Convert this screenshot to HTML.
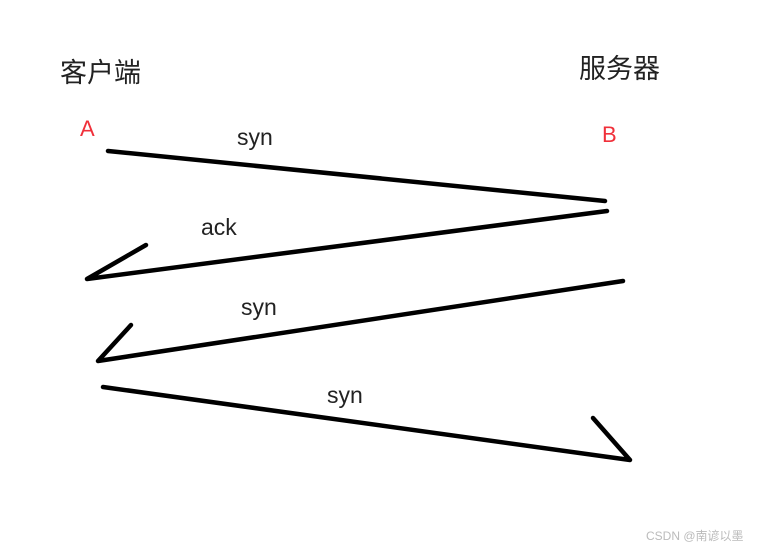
<!DOCTYPE html>
<html><head><meta charset="utf-8"><style>
html,body{margin:0;padding:0;background:#fff;}
body{width:764px;height:550px;overflow:hidden;position:relative;}
</style></head><body>
<svg width="764" height="550" xmlns="http://www.w3.org/2000/svg" style="position:absolute;left:0;top:0">
<g font-family="Liberation Sans, Noto Sans CJK SC, sans-serif">
<text x="60" y="82" font-size="27" fill="#222">客户端</text>
<text x="579" y="78" font-size="27" fill="#222">服务器</text>
<text x="80" y="136" font-size="22" fill="#f0303a">A</text>
<text x="602" y="142" font-size="22" fill="#f0303a">B</text>
<text x="237" y="145" font-size="23" fill="#222">syn</text>
<text x="201" y="235" font-size="23" fill="#222">ack</text>
<text x="241" y="315" font-size="23" fill="#222">syn</text>
<text x="327" y="403" font-size="23" fill="#222">syn</text>
<text x="646" y="540" font-size="12" fill="#bbb">CSDN @南谚以墨</text>
</g>
<g stroke="#000" stroke-width="4.5" stroke-linecap="round" stroke-linejoin="round" fill="none">
<line x1="108" y1="151" x2="605" y2="201"/>
<polyline points="146,245 87,279 607,211"/>
<polyline points="131,325 98,361 623,281"/>
<polyline points="103,387 630,460 593,418"/>
</g>
</svg>
</body></html>
